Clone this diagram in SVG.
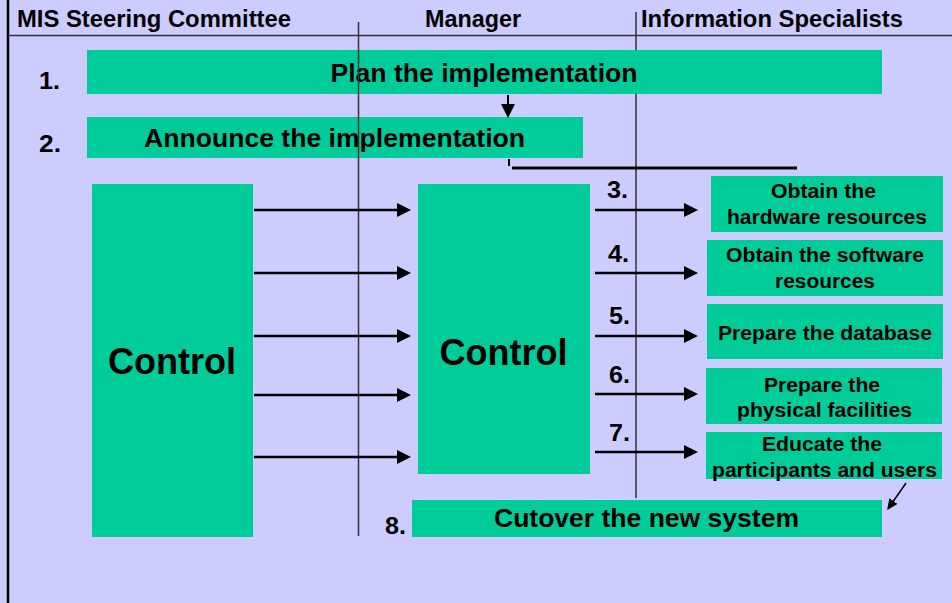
<svg xmlns="http://www.w3.org/2000/svg" width="952" height="603" viewBox="0 0 952 603">
<defs>
<style>
.bg{fill:#CCCCFF}
.box{fill:#00CC99}
.t{font-family:"Liberation Sans",Arial,sans-serif;font-weight:bold;fill:#000}
.hd{font-size:23px}
.num{font-size:23px}
.big{font-size:26px;text-anchor:middle}
.sm{font-size:20px;text-anchor:middle}
.ctl{font-size:36px;text-anchor:middle}
.lane{stroke:#333;stroke-width:1.5;fill:none}
.arr{stroke:#000;stroke-width:2.5;fill:none;marker-end:url(#ah)}
</style>
<marker id="ah" markerUnits="userSpaceOnUse" markerWidth="14" markerHeight="14" refX="8" refY="7" orient="auto">
<path d="M0,0 L14,7 L0,14 z" fill="#000"/>
</marker>
<marker id="ahs" markerUnits="userSpaceOnUse" markerWidth="11" markerHeight="10" refX="6" refY="5" orient="auto">
<path d="M0,0 L11,5 L0,10 z" fill="#000"/>
</marker>
</defs>
<rect class="bg" x="0" y="0" width="952" height="603"/>
<g id="frame">
<line x1="8" y1="0" x2="8" y2="603" stroke="#000" stroke-width="2.5"/>
<line x1="8" y1="35.5" x2="952" y2="35.5" stroke="#333" stroke-width="1.5"/>
<text class="t hd" x="17" y="27" textLength="274" lengthAdjust="spacingAndGlyphs">MIS Steering Committee</text>
<text class="t hd" x="425" y="27" textLength="96" lengthAdjust="spacingAndGlyphs">Manager</text>
<text class="t hd" x="641" y="27" textLength="262" lengthAdjust="spacingAndGlyphs">Information Specialists</text>
</g>
<g id="lane2"><line class="lane" x1="636" y1="12" x2="636" y2="498"/></g>
<g id="n1">
<rect class="box" x="87" y="50" width="795" height="44"/>
<text class="t num" x="39" y="89" textLength="21" lengthAdjust="spacingAndGlyphs">1.</text>
<text class="t big" x="484" y="82" textLength="307" lengthAdjust="spacingAndGlyphs">Plan the implementation</text>
</g>
<g id="n2">
<rect class="box" x="87" y="117" width="496" height="41"/>
<text class="t num" x="39" y="152" textLength="22" lengthAdjust="spacingAndGlyphs">2.</text>
<text class="t big" x="334.5" y="147" textLength="381" lengthAdjust="spacingAndGlyphs">Announce the implementation</text>
</g>
<g id="ctlLeft">
<rect class="box" x="92" y="184" width="161" height="353"/>
<text class="t ctl" x="172" y="374">Control</text>
</g>
<g id="ctlMgr">
<rect class="box" x="418" y="184" width="172" height="290"/>
<text class="t ctl" x="503.5" y="365">Control</text>
</g>
<g id="n3">
<rect class="box" x="711" y="176" width="232" height="56"/>
<text class="t num" x="607" y="198" textLength="21" lengthAdjust="spacingAndGlyphs">3.</text>
<text class="t sm" x="823.5" y="198" textLength="105" lengthAdjust="spacingAndGlyphs">Obtain the</text>
<text class="t sm" x="827" y="224" textLength="200" lengthAdjust="spacingAndGlyphs">hardware resources</text>
</g>
<g id="n4">
<rect class="box" x="707" y="240" width="236" height="56"/>
<text class="t num" x="608" y="262" textLength="21" lengthAdjust="spacingAndGlyphs">4.</text>
<text class="t sm" x="825" y="262" textLength="198" lengthAdjust="spacingAndGlyphs">Obtain the software</text>
<text class="t sm" x="825" y="288" textLength="100" lengthAdjust="spacingAndGlyphs">resources</text>
</g>
<g id="n5">
<rect class="box" x="707" y="304" width="236" height="55"/>
<text class="t num" x="609" y="324" textLength="21" lengthAdjust="spacingAndGlyphs">5.</text>
<text class="t sm" x="825" y="340" textLength="214" lengthAdjust="spacingAndGlyphs">Prepare the database</text>
</g>
<g id="n6">
<rect class="box" x="706" y="368" width="236" height="56"/>
<text class="t num" x="609" y="383" textLength="21" lengthAdjust="spacingAndGlyphs">6.</text>
<text class="t sm" x="822" y="392" textLength="116" lengthAdjust="spacingAndGlyphs">Prepare the</text>
<text class="t sm" x="824.5" y="417" textLength="175" lengthAdjust="spacingAndGlyphs">physical facilities</text>
</g>
<g id="n7">
<rect class="box" x="706" y="432" width="236" height="47"/>
<text class="t num" x="609" y="441" textLength="21" lengthAdjust="spacingAndGlyphs">7.</text>
<text class="t sm" x="822" y="451" textLength="120" lengthAdjust="spacingAndGlyphs">Educate the</text>
<text class="t sm" x="824.5" y="477" textLength="225" lengthAdjust="spacingAndGlyphs">participants and users</text>
</g>
<g id="n8">
<rect class="box" x="412" y="500" width="470" height="37"/>
<text class="t num" x="385" y="534" textLength="21" lengthAdjust="spacingAndGlyphs">8.</text>
<text class="t big" x="646.5" y="527" textLength="305" lengthAdjust="spacingAndGlyphs">Cutover the new system</text>
</g>
<g id="lane1"><line class="lane" x1="358.5" y1="22" x2="358.5" y2="536"/></g>
<g id="connectors">
<line x1="508" y1="95" x2="508" y2="112" stroke="#000" stroke-width="2" marker-end="url(#ah)"/>
<line x1="509" y1="159" x2="509" y2="166" stroke="#000" stroke-width="2"/>
<line x1="512" y1="168" x2="797" y2="168" stroke="#000" stroke-width="3"/>
<line class="arr" x1="254" y1="210" x2="405" y2="210"/>
<line class="arr" x1="254" y1="273" x2="405" y2="273"/>
<line class="arr" x1="254" y1="336" x2="405" y2="336"/>
<line class="arr" x1="254" y1="395" x2="405" y2="395"/>
<line class="arr" x1="254" y1="457" x2="405" y2="457"/>
<line class="arr" x1="595" y1="210" x2="692" y2="210"/>
<line class="arr" x1="595" y1="273" x2="692" y2="273"/>
<line class="arr" x1="595" y1="336" x2="692" y2="336"/>
<line class="arr" x1="595" y1="394" x2="692" y2="394"/>
<line class="arr" x1="595" y1="452" x2="692" y2="452"/>
<line x1="906" y1="483" x2="890" y2="506" stroke="#000" stroke-width="1.5" marker-end="url(#ahs)"/>
</g>
</svg>
